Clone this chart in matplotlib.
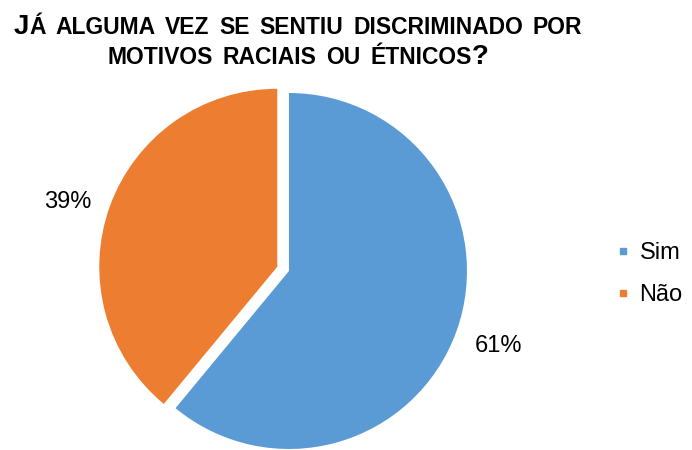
import matplotlib

matplotlib.use("Agg")
import matplotlib.pyplot as plt
from matplotlib.lines import Line2D
from matplotlib.offsetbox import AnchoredOffsetbox, HPacker, TextArea, VPacker

labels = ["Sim", "Não"]
shares = [61, 39]
colors = ["#5B9BD5", "#ED7D31"]

# Title words in small caps: each word is a list of (text, full-size capital?)
title_lines = [
    [
        [("J", True), ("Á", False)],
        [("ALGUMA", False)],
        [("VEZ", False)],
        [("SE", False)],
        [("SENTIU", False)],
        [("DISCRIMINADO", False)],
        [("POR", False)],
    ],
    [
        [("MOTIVOS", False)],
        [("RACIAIS", False)],
        [("OU", False)],
        [("ÉTNICOS", False), ("?", True)],
    ],
]

plt.rcParams["font.family"] = ["Liberation Sans", "DejaVu Sans"]

fig = plt.figure(figsize=(6.92, 4.5), dpi=100)
ax = fig.add_axes([0.0832, -0.1164, 0.6688, 1.0284])
wedges, texts, autotexts = ax.pie(
    shares,
    colors=colors,
    startangle=90,
    counterclock=False,
    explode=[0, 0.07],
    autopct="%1.0f%%",
    pctdistance=1.25,
    textprops={"fontsize": 17, "color": "#000000"},
)
# nudge the smaller slice's label down a little
x, y = autotexts[1].get_position()
autotexts[1].set_position((x, y - 0.06))
ax.set_xlim(-1.3, 1.3)
ax.set_ylim(-1.3, 1.3)
ax.set_aspect("equal")
ax.axis("off")

# small-caps title built from mixed font sizes, with wide word spacing
rows = []
for line in title_lines:
    words = []
    for word in line:
        parts = [
            TextArea(txt, textprops=dict(fontsize=20 if big else 16.5, fontweight="bold"))
            for txt, big in word
        ]
        words.append(HPacker(children=parts, align="baseline", pad=0, sep=0))
    rows.append(HPacker(children=words, align="baseline", pad=0, sep=7))
title = VPacker(children=rows, align="center", pad=0, sep=3)
box = AnchoredOffsetbox(
    loc="upper center",
    child=title,
    pad=0,
    borderpad=0,
    frameon=False,
    bbox_to_anchor=(298 / 692, 1 - 14 / 450),
    bbox_transform=fig.transFigure,
)
fig.add_artist(box)

handles = [
    Line2D([], [], linestyle="none", marker="s", markersize=5, color=c) for c in colors
]
fig.legend(
    handles,
    labels,
    loc="center left",
    bbox_to_anchor=(617 / 692, 1 - 274 / 450),
    frameon=False,
    fontsize=17,
    handlelength=0.5,
    handletextpad=0.45,
    labelspacing=0.85,
    borderpad=0,
    borderaxespad=0,
)

fig.savefig("out.png", dpi=100)
